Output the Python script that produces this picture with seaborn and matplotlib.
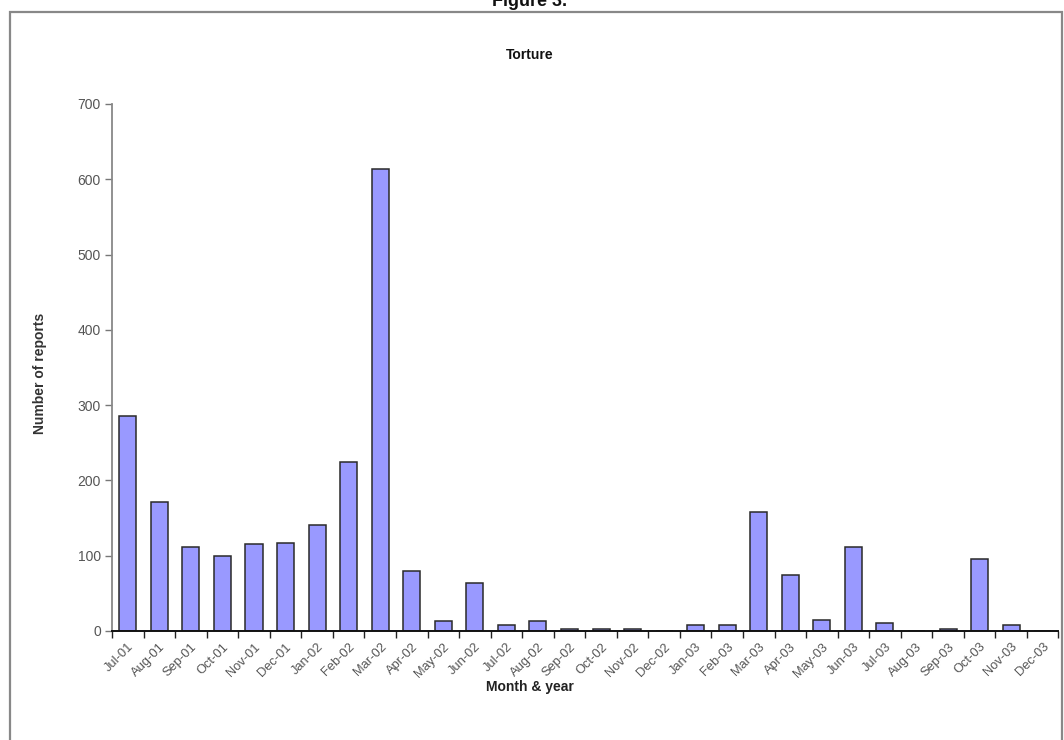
import matplotlib
matplotlib.use("Agg")
import matplotlib.pyplot as plt
from matplotlib.patches import Rectangle
from matplotlib.ticker import FixedLocator, MultipleLocator
import pandas as pd
import seaborn as sns

# Monthly counts of torture reports, July 2001 - December 2003
months = [
    "Jul-01", "Aug-01", "Sep-01", "Oct-01", "Nov-01", "Dec-01",
    "Jan-02", "Feb-02", "Mar-02", "Apr-02", "May-02", "Jun-02",
    "Jul-02", "Aug-02", "Sep-02", "Oct-02", "Nov-02", "Dec-02",
    "Jan-03", "Feb-03", "Mar-03", "Apr-03", "May-03", "Jun-03",
    "Jul-03", "Aug-03", "Sep-03", "Oct-03", "Nov-03", "Dec-03",
]
reports = [
    286, 171, 112, 99, 115, 117,
    141, 224, 613, 80, 13, 64,
    8, 13, 3, 2, 2, 0,
    8, 8, 158, 74, 15, 112,
    10, 0, 2, 96, 8, 0,
]
y_ticks = [0, 100, 200, 300, 400, 500, 600, 700]

figure_caption = "Figure 3."
chart_title = "Torture"
x_title = "Month & year"
y_title = "Number of reports"

sns.set_theme(style="white")
plt.rcParams["font.family"] = ["Liberation Sans", "DejaVu Sans"]

df = pd.DataFrame({"month": months, "reports": reports})

fig = plt.figure(figsize=(10.64, 7.40), dpi=100)
fig.patch.set_facecolor("white")
ax = fig.add_axes([0.1053, 0.1473, 0.8895, 0.7122])

sns.barplot(
    data=df, x="month", y="reports", order=months,
    color="#9999FF", saturation=1, width=0.54,
    edgecolor="#2a2a2a", linewidth=1.1, ax=ax,
)

ax.set_xlim(-0.5, len(months) - 0.5)
ax.set_ylim(0, 700)
ax.yaxis.set_major_locator(FixedLocator(y_ticks))

# Category labels centred, tick marks on the category boundaries
ax.set_xticks(range(len(months)))
ax.set_xticklabels(months, rotation=45, ha="right", rotation_mode="anchor",
                   fontsize=9.3, color="#555555")
ax.xaxis.set_minor_locator(MultipleLocator(1, offset=0.5))
ax.tick_params(axis="x", which="major", length=0, pad=7)
ax.tick_params(axis="x", which="minor", length=5, width=1.0,
               color="#222222", direction="out", bottom=True)
ax.tick_params(axis="y", length=5, width=1.0, color="#777777",
               direction="out", left=True, labelsize=10,
               labelcolor="#555555", pad=3)

for side in ("top", "right"):
    ax.spines[side].set_visible(False)
ax.spines["left"].set_color("#888888")
ax.spines["left"].set_linewidth(1.3)
ax.spines["bottom"].set_color("#111111")
ax.spines["bottom"].set_linewidth(1.4)

ax.set_xlabel("")
ax.set_ylabel("")
fig.text(0.498, 0.071, x_title, ha="center", va="center",
         fontsize=10, fontweight="bold", color="#222222")
fig.text(0.038, 0.496, y_title, ha="center", va="center", rotation=90,
         fontsize=10, fontweight="bold", color="#333333")
fig.text(0.498, 0.926, chart_title, ha="center", va="center",
         fontsize=10, fontweight="bold", color="#111111")

# Caption running off the top edge, and the chart border
fig.text(0.498, 0.998, figure_caption, ha="center", va="center",
         fontsize=13, fontweight="bold", color="#111111")
fig.patches.append(Rectangle((10 / 1064, -0.05), 1052 / 1064, 1.05 - 12 / 740,
                             transform=fig.transFigure, fill=False,
                             edgecolor="#888888", linewidth=1.6))

fig.savefig("out.png", dpi=100, facecolor="white")
